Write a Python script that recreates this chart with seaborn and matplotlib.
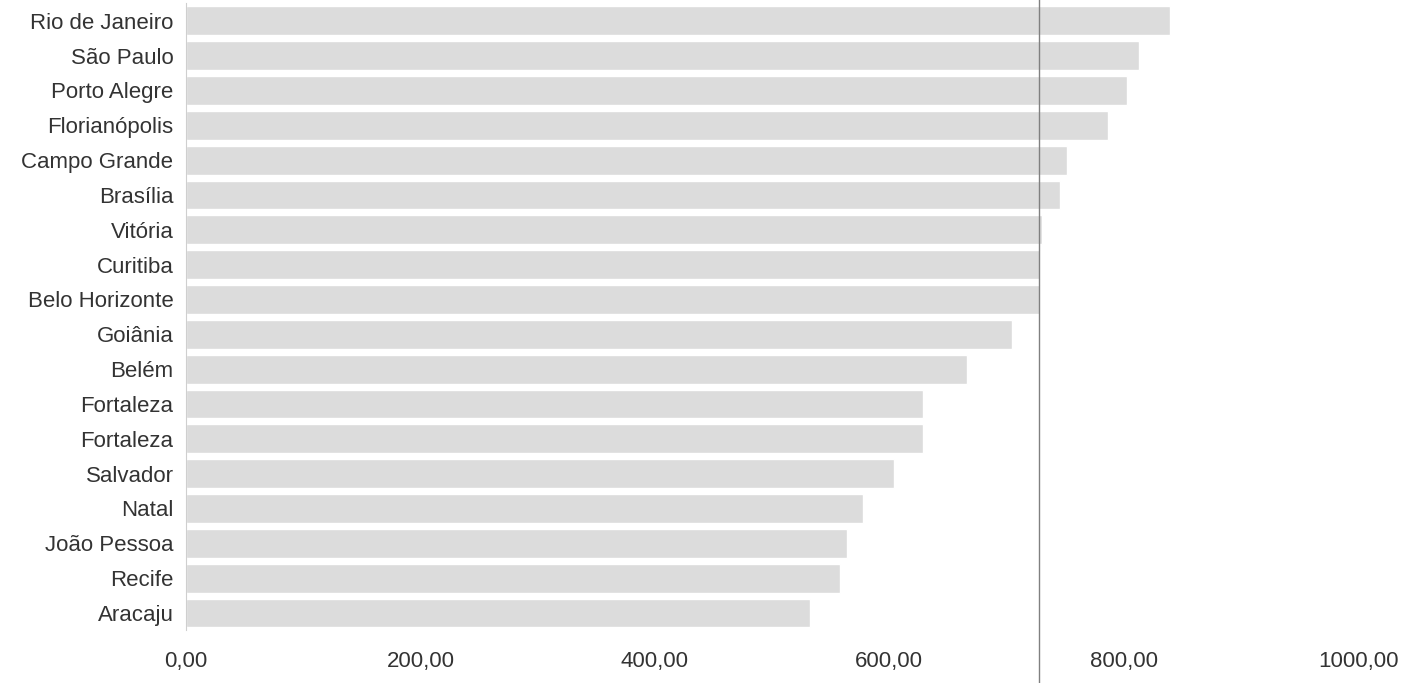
import matplotlib
matplotlib.use("Agg")
import matplotlib.pyplot as plt
import seaborn as sns
import pandas as pd

cities = ["Rio de Janeiro", "São Paulo", "Porto Alegre", "Florianópolis", "Campo Grande",
          "Brasília", "Vitória", "Curitiba", "Belo Horizonte", "Goiânia", "Belém",
          "Fortaleza", "Fortaleza ", "Salvador", "Natal", "João Pessoa", "Recife", "Aracaju"]
values = [840, 813, 803, 787, 752, 746, 730, 729, 729, 705, 666,
          629, 629, 604, 578, 564, 558, 532]
tick_values = [0, 200, 400, 600, 800, 1000]
tick_labels = ["0,00", "200,00", "400,00", "600,00", "800,00", "1000,00"]
ref_line = 728

df = pd.DataFrame({"city": cities, "value": values})

sns.set_theme(style="white")
plt.rcParams["font.family"] = ["Liberation Sans", "DejaVu Sans"]

fig = plt.figure(figsize=(14.22, 6.83), dpi=100)
ax = fig.add_axes([0.1308, 0.077, 0.8242, 0.918])

sns.barplot(data=df, x="value", y="city", orient="h", color="#dcdcdc",
            saturation=1, width=0.83, ax=ax)

ax.axvline(ref_line, color="#808080", lw=1.0, ymin=-0.2, ymax=1.2, clip_on=False)

ax.set_xlim(0, 1000)
ax.set_xticks(tick_values)
ax.set_xticklabels(tick_labels)
ax.set_yticks(range(len(cities)))
ax.set_yticklabels([c.strip() for c in cities])
ax.set_xlabel("")
ax.set_ylabel("")
ax.tick_params(axis="x", length=0, pad=15, labelsize=16, labelcolor="#333333")
ax.tick_params(axis="y", length=0, pad=9, labelsize=16, labelcolor="#333333")
for s in ["top", "right", "bottom"]:
    ax.spines[s].set_visible(False)
ax.spines["left"].set_color("#cfcfcf")
ax.spines["left"].set_linewidth(0.8)
ax.grid(False)

fig.savefig("out.png", dpi=100)
